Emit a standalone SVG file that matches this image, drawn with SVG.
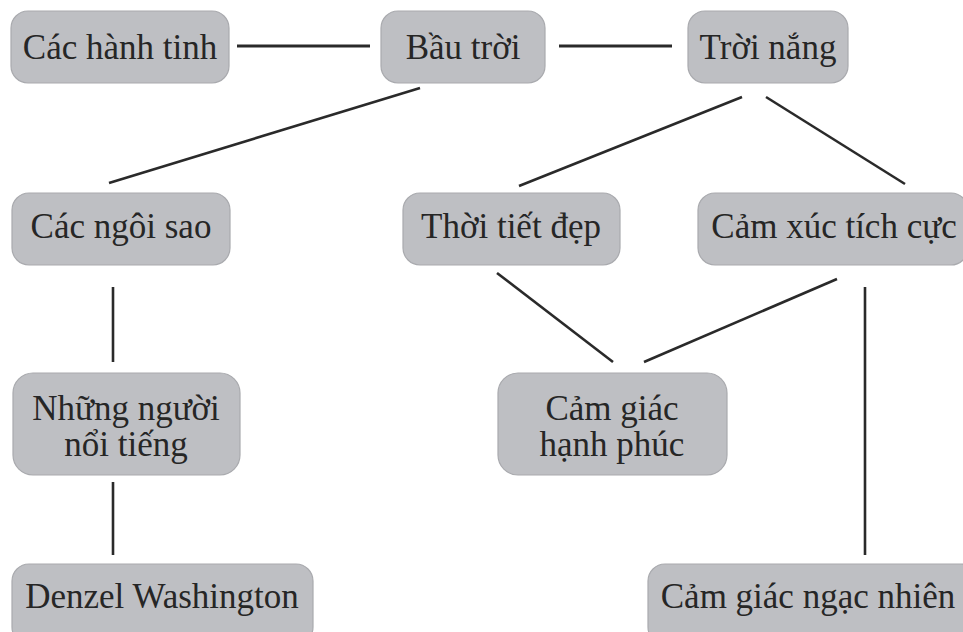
<svg xmlns="http://www.w3.org/2000/svg" width="963" height="632" viewBox="0 0 963 632">
<style>
.box{fill:#bebfc3;stroke:#a9aaae;stroke-width:1.2}
.t{font-family:"Liberation Serif","DejaVu Serif",serif;font-size:35px;fill:#262626;text-anchor:middle}
.c{stroke:#2a2a2a;stroke-width:2.6;fill:none;stroke-linecap:butt}
</style>
<rect width="963" height="632" fill="#ffffff"/>
<g id="connectors">
<line class="c" x1="237" y1="46" x2="370" y2="46" style="stroke-width:3.2"/>
<line class="c" x1="559" y1="46" x2="672" y2="46" style="stroke-width:3.2"/>
<line class="c" x1="420" y1="88" x2="109" y2="183"/>
<line class="c" x1="742" y1="97" x2="519" y2="186"/>
<line class="c" x1="766" y1="97" x2="905" y2="184"/>
<line class="c" x1="113" y1="287" x2="113" y2="362"/>
<line class="c" x1="497" y1="273" x2="613" y2="362"/>
<line class="c" x1="837" y1="279" x2="644" y2="362"/>
<line class="c" x1="865" y1="287" x2="865" y2="555"/>
<line class="c" x1="113" y1="482" x2="113" y2="555"/>
</g>
<g id="cac-hanh-tinh"><rect class="box" x="11" y="11" width="218" height="72" rx="17"/><text class="t" x="120" y="59">Các hành tinh</text></g>
<g id="bau-troi"><rect class="box" x="381" y="11" width="164" height="72" rx="17"/><text class="t" x="463" y="59">Bầu trời</text></g>
<g id="troi-nang"><rect class="box" x="688" y="11" width="160" height="72" rx="17"/><text class="t" x="768" y="59">Trời nắng</text></g>
<g id="cac-ngoi-sao"><rect class="box" x="12" y="193" width="218" height="72" rx="17"/><text class="t" x="121" y="238">Các ngôi sao</text></g>
<g id="thoi-tiet-dep"><rect class="box" x="403" y="193" width="217" height="72" rx="17"/><text class="t" x="511" y="238">Thời tiết đẹp</text></g>
<g id="cam-xuc-tich-cuc"><rect class="box" x="698" y="193" width="270" height="72" rx="17"/><text class="t" x="834" y="238">Cảm xúc tích cực</text></g>
<g id="nhung-nguoi-noi-tieng"><rect class="box" x="13" y="373" width="227" height="102" rx="20"/><text class="t" x="126" y="420">Những người</text><text class="t" x="126" y="456">nổi tiếng</text></g>
<g id="cam-giac-hanh-phuc"><rect class="box" x="498" y="373" width="229" height="102" rx="20"/><text class="t" x="612" y="420">Cảm giác</text><text class="t" x="612" y="456">hạnh phúc</text></g>
<g id="denzel-washington"><rect class="box" x="12" y="564" width="301" height="80" rx="17"/><text class="t" x="162" y="608">Denzel Washington</text></g>
<g id="cam-giac-ngac-nhien"><rect class="box" x="648" y="564" width="330" height="80" rx="17"/><text class="t" x="808" y="608">Cảm giác ngạc nhiên</text></g>
</svg>
